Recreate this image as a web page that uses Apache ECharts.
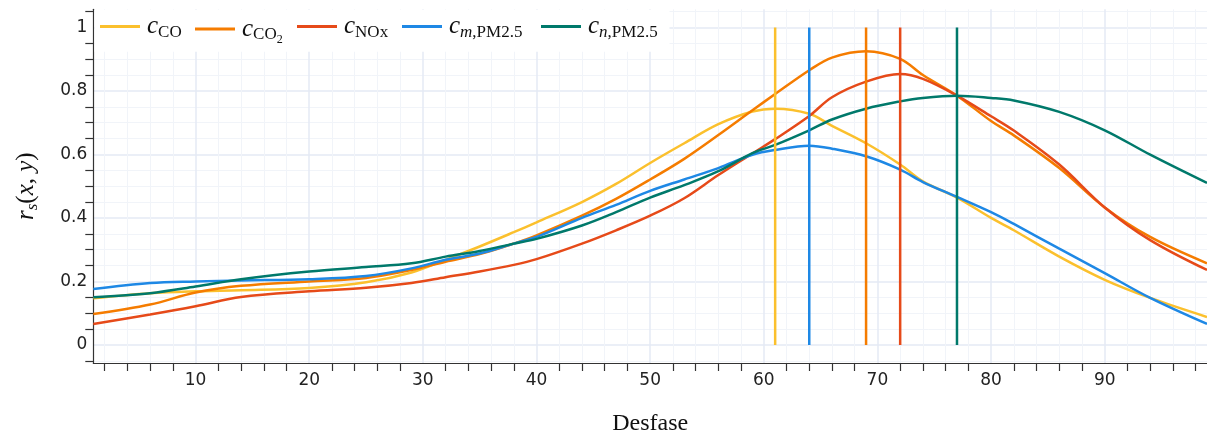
<!DOCTYPE html>
<html>
<head>
<meta charset="utf-8">
<script src="https://cdn.jsdelivr.net/npm/echarts@6/dist/echarts.min.js"></script>
<style>
  html, body { margin: 0; padding: 0; background: #ffffff; }
  #chart { width: 1207px; height: 441px; }
</style>
</head>
<body>
<div id="chart"></div>
<script>
// Lag (Desfase) at which each coefficient was sampled
const lags = [1, 6, 10, 14, 20, 25, 29, 32, 35, 38, 40, 44, 47, 50, 53, 56, 59, 61, 64, 66, 69, 72, 74, 77, 80, 82, 86, 90, 94, 99];

// Spearman coefficient r_s(x, y) per pollutant
const cCO   = [0.147, 0.163, 0.169, 0.172, 0.179, 0.197, 0.228, 0.268, 0.310, 0.355, 0.386, 0.450, 0.507, 0.573, 0.635, 0.695, 0.735, 0.744, 0.728, 0.690, 0.635, 0.568, 0.515, 0.464, 0.400, 0.361, 0.278, 0.205, 0.148, 0.088];
const cCO2  = [0.097, 0.127, 0.165, 0.186, 0.200, 0.211, 0.236, 0.262, 0.286, 0.319, 0.345, 0.407, 0.460, 0.521, 0.586, 0.661, 0.739, 0.790, 0.865, 0.905, 0.925, 0.901, 0.850, 0.785, 0.705, 0.660, 0.557, 0.433, 0.340, 0.257];
const cNOx  = [0.066, 0.096, 0.122, 0.151, 0.169, 0.180, 0.195, 0.213, 0.231, 0.252, 0.270, 0.319, 0.361, 0.407, 0.462, 0.535, 0.603, 0.648, 0.721, 0.780, 0.829, 0.853, 0.838, 0.785, 0.720, 0.675, 0.568, 0.433, 0.330, 0.236];
const cmPM  = [0.176, 0.195, 0.200, 0.203, 0.207, 0.217, 0.241, 0.268, 0.288, 0.319, 0.340, 0.400, 0.441, 0.485, 0.521, 0.557, 0.599, 0.614, 0.627, 0.618, 0.594, 0.552, 0.513, 0.466, 0.418, 0.381, 0.303, 0.226, 0.148, 0.066];
const cnPM  = [0.150, 0.163, 0.184, 0.207, 0.231, 0.245, 0.257, 0.278, 0.296, 0.319, 0.334, 0.376, 0.418, 0.464, 0.503, 0.547, 0.604, 0.630, 0.676, 0.710, 0.744, 0.767, 0.778, 0.785, 0.778, 0.770, 0.734, 0.676, 0.599, 0.510];

// Lag of the maximum of each series
const peakLags = [61, 69, 72, 64, 77];

const seriesNames = ['CO', 'CO2', 'NOx', 'mPM25', 'nPM25'];
const legendLabels = [
  '{c|c}{s|CO}',
  '{c|c}{s|CO}{ss|2}',
  '{c|c}{s|NOx}',
  '{c|c}{si|m}{s|,PM2.5}',
  '{c|c}{si|n}{s|,PM2.5}'
];
const colors = ['#FBC02D', '#F57C00', '#E64A19', '#1E88E5', '#00796B'];

// Tick positions
const xMajorTicks = [10, 20, 30, 40, 50, 60, 70, 80, 90];
const xMinorTicks = [2, 4, 6, 8, 12, 14, 16, 18, 22, 24, 26, 28, 32, 34, 36, 38, 42, 44, 46, 48, 52, 54, 56, 58, 62, 64, 66, 68, 72, 74, 76, 78, 82, 84, 86, 88, 92, 94, 96, 98];
const yMajorTicks = [0, 0.2, 0.4, 0.6, 0.8, 1];
const yMinorTicks = [-0.05, 0.05, 0.1, 0.15, 0.25, 0.3, 0.35, 0.45, 0.5, 0.55, 0.65, 0.7, 0.75, 0.85, 0.9, 0.95, 1.05];

const X_MIN = 1, X_MAX = 99, Y_MIN = -0.057, Y_MAX = 1.057;
const allValues = [cCO, cCO2, cNOx, cmPM, cnPM];

const serif = 'Liberation Serif';
const mathRich = {
  c:  { fontFamily: serif, fontStyle: 'italic', fontSize: 25, lineHeight: 30, color: '#111', padding: [0, 0, 0, 2] },
  i:  { fontFamily: serif, fontStyle: 'italic', fontSize: 25, lineHeight: 30, color: '#111' },
  n:  { fontFamily: serif, fontSize: 25, lineHeight: 30, color: '#111' },
  s:  { fontFamily: serif, fontSize: 17, lineHeight: 30, color: '#111', padding: [12, 0, 0, 0] },
  si: { fontFamily: serif, fontStyle: 'italic', fontSize: 17, lineHeight: 30, color: '#111', padding: [12, 0, 0, 0] },
  ss: { fontFamily: serif, fontSize: 12, lineHeight: 30, color: '#111', padding: [22, 0, 0, 0] }
};

const gridMajor = '#e4eaf4';
const gridMinor = '#f1f4f9';
const axisColor = '#333';
const tickFont = { fontFamily: 'DejaVu Sans', fontSize: 17, color: '#222' };

const series = [];
seriesNames.forEach((name, k) => {
  series.push({
    name: name,
    type: 'line',
    data: lags.map((x, j) => [x, allValues[k][j]]),
    smooth: 0.35,
    showSymbol: false,
    symbol: 'none',
    lineStyle: { width: 2.5, color: colors[k] },
    itemStyle: { color: colors[k] },
    z: 2
  });
});
seriesNames.forEach((name, k) => {
  series.push({
    name: name + '_peak',
    type: 'line',
    data: [[peakLags[k], 0], [peakLags[k], 1]],
    showSymbol: false,
    symbol: 'none',
    lineStyle: { width: 2.5, color: colors[k] },
    z: 3
  });
});

const legendLefts = [100, 195, 297, 402, 541];
const legends = seriesNames.map((name, k) => ({
  data: [name],
  left: legendLefts[k],
  top: 12,
  padding: 0,
  icon: 'rect',
  itemWidth: 40,
  itemHeight: 3,
  selectedMode: false,
  formatter: () => legendLabels[k],
  textStyle: { rich: mathRich }
}));

const chart = echarts.init(document.getElementById('chart'), null, { renderer: 'canvas' });
chart.setOption({
  animation: false,
  backgroundColor: '#ffffff',
  grid: { left: 93.3, top: 9.3, width: 1118.2, height: 358.4, containLabel: false },
  legend: legends,
  graphic: [{
    type: 'rect',
    z: 3,
    shape: { x: 94.5, y: 9.8, width: 575, height: 42 },
    style: { fill: '#ffffff' }
  }],
  xAxis: [{
    type: 'value', min: X_MIN, max: X_MAX, position: 'bottom',
    axisLine: { show: true, onZero: false, lineStyle: { color: axisColor, width: 1.2 } },
    axisTick: { show: true, inside: false, length: 8, customValues: xMinorTicks, lineStyle: { color: axisColor, width: 1.2 } },
    axisLabel: Object.assign({ customValues: xMajorTicks, margin: 9 }, tickFont),
    splitLine: { show: true, lineStyle: { color: gridMinor, width: 1 } },
    name: 'Desfase', nameLocation: 'middle', nameGap: 49,
    nameTextStyle: { fontFamily: serif, fontSize: 24, color: '#111' }
  }, {
    type: 'value', min: X_MIN, max: X_MAX, position: 'bottom',
    axisLine: { show: false },
    axisTick: { show: false, customValues: xMajorTicks },
    axisLabel: { show: false },
    splitLine: { show: true, lineStyle: { color: gridMajor, width: 1.5 } }
  }],
  yAxis: [{
    type: 'value', min: Y_MIN, max: Y_MAX, position: 'left',
    axisLine: { show: true, onZero: false, lineStyle: { color: axisColor, width: 1.2 } },
    axisTick: { show: true, inside: false, length: 8, customValues: yMinorTicks, lineStyle: { color: axisColor, width: 1.2 } },
    axisLabel: Object.assign({ customValues: yMajorTicks, margin: 6 }, tickFont),
    splitLine: { show: true, lineStyle: { color: gridMinor, width: 1 } },
    name: '{i|r}{si|s}{n|(}{i|x}{n|, }{i|y}{n|)}', nameLocation: 'middle', nameGap: 52,
    nameTextStyle: { rich: mathRich }
  }, {
    type: 'value', min: Y_MIN, max: Y_MAX, position: 'left',
    axisLine: { show: false },
    axisTick: { show: false, customValues: yMajorTicks },
    axisLabel: { show: false },
    splitLine: { show: true, lineStyle: { color: gridMajor, width: 1.5 } }
  }],
  series: series
});
</script>
</body>
</html>
